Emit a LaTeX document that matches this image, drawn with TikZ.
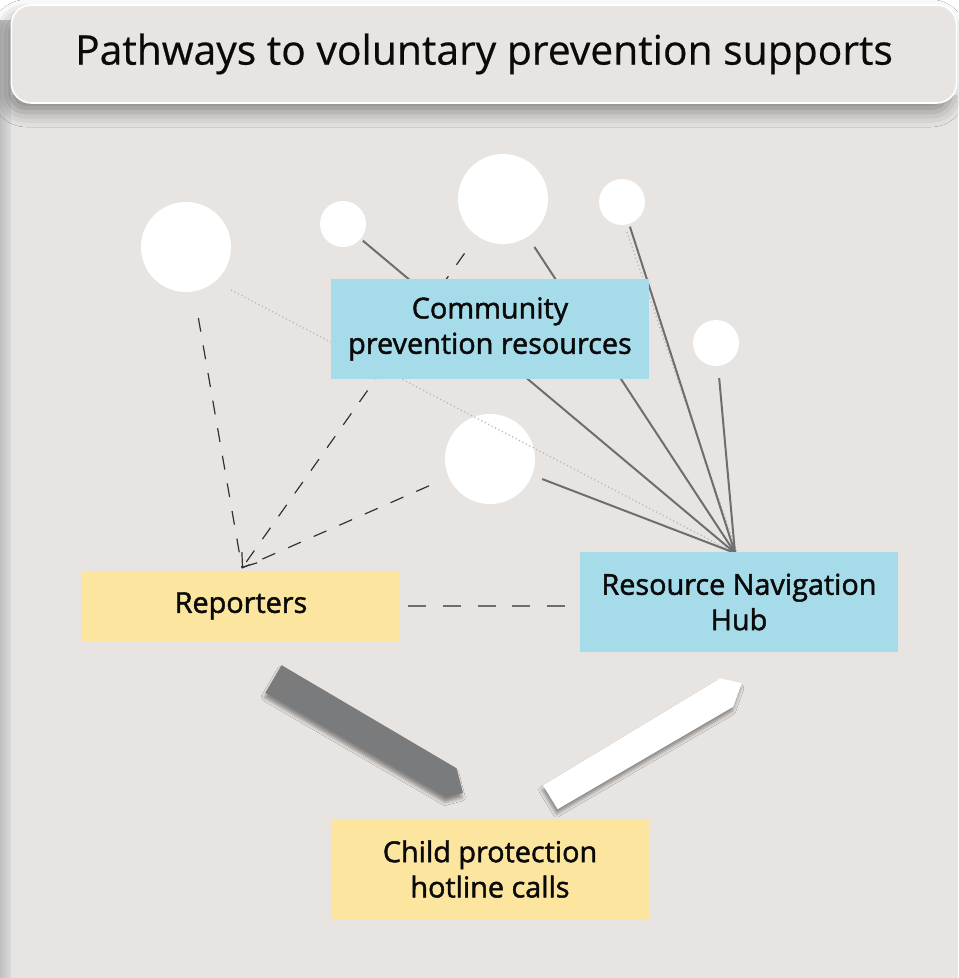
\documentclass[tikz,border=0pt]{standalone}
\usepackage{fontspec}
\setmainfont{Open Sans}
\newfontfamily\labfont{Open Sans}[FakeBold=1.6]
\newfontfamily\titfont{Open Sans}[FakeBold=0.5]
\usetikzlibrary{arrows.meta,shadows.blur,calc}
\definecolor{bg}{HTML}{E8E4E1}
\definecolor{boxblue}{HTML}{A6DCEA}
\definecolor{boxyellow}{HTML}{FCE59E}
\definecolor{linegray}{HTML}{6E6E6E}
\definecolor{arrowgray}{HTML}{7A7B7C}
\definecolor{dotgray}{HTML}{B9B5B3}
\definecolor{txt}{HTML}{0A0A0A}
\begin{document}
\begin{tikzpicture}[x=0.75pt,y=-0.75pt,
  bubble/.style={circle,fill=white,draw=none,inner sep=0pt},
  bigbubble/.style={bubble,minimum size=67.5pt},
  smallbubble/.style={bubble,minimum size=34.5pt},
  labelbox/.style={draw=none,inner sep=0pt,minimum width=238.5pt,text=txt,
    align=center,font=\labfont\fontsize{21.6pt}{26.5pt}\selectfont},
  bluebox/.style={labelbox,fill=boxblue,minimum height=75pt},
  yellowbox/.style={labelbox,fill=boxyellow,minimum height=75pt},
  hubline/.style={draw=linegray,line width=1.5pt},
  dotline/.style={draw=dotgray,line width=0.9pt,dotted},
  dashline/.style={draw=black!80,line width=0.9pt,dash pattern=on 10.5pt off 10.5pt},
  bigarrow/.style={draw=none,blur shadow={shadow xshift=-0.8pt,shadow yshift=-3.5pt,shadow blur radius=2.5pt,shadow opacity=40}},
  titlebox/.style={draw=white,line width=1.2pt,fill=bg,rounded corners=15pt,
    minimum width=709pt,minimum height=73.5pt,text=txt,
    font=\titfont\fontsize{30.6pt}{36pt}\selectfont,
    blur shadow={shadow xshift=-4pt,shadow yshift=-7pt,shadow blur radius=11pt,shadow opacity=40}}
]
\useasboundingbox (0,0) rectangle (958,978);
\fill[white] (0,0) rectangle (958,978);
% panel and left shadow strip
\fill[bg] (10,95) rectangle (958,978);
\shade[left color=black!25,right color=black!14] (0,20) rectangle (11,978);
% title
\node[titlebox] (title) at (484,54) {\raisebox{-2.5pt}{Pathways to voluntary prevention supports}};

% bubbles
\node[bigbubble] (c1) at (186,247) {};
\node[smallbubble] (c2) at (343,224) {};
\node[bigbubble] (c3) at (503,199) {};
\node[smallbubble] (c4) at (622,202) {};
\node[smallbubble] (c5) at (716,343) {};
\node[bigbubble] (c6) at (490,459) {};

\coordinate (hubpt) at (735,553);
\coordinate (reptip) at (242,568);

% faint dotted lines
\draw[dotline] (231,290) -- (hubpt);
\draw[dotline] (627,232) -- (737,552);

% solid lines to hub
\draw[hubline,shorten <=2pt] (c2) -- (hubpt);
\draw[hubline,shorten <=9pt] (c3) -- (hubpt);
\draw[hubline,shorten <=2pt] (c4) -- (hubpt);
\draw[hubline,shorten <=9pt] (c5) -- (hubpt);
\draw[hubline,shorten <=8pt] (c6) -- (hubpt);

% dashed lines to reporters
\draw[dashline,shorten <=20pt] (c1) -- (reptip);
\draw[dashline,shorten <=16pt,-{Straight Barb[length=9pt,width=14pt,line width=0.9pt]}] (c3) -- (reptip);
\draw[dashline,shorten <=16pt] (c6) -- (reptip);

% boxes
\node[bluebox] (comm) at (490,329) {Community\\prevention resources};
\node[bluebox] (hub) at (739,602) {Resource Navigation\\Hub};
\node[yellowbox,minimum height=52.5pt] (rep) at (241,606) {Reporters};
\node[yellowbox] (hot) at (490,869) {Child protection\\hotline calls};

% reporters - hub dashed
\draw[draw=linegray,line width=1.4pt,dash pattern=on 13.5pt off 12.5pt,shorten <=6pt,shorten >=9pt]
  (rep.east) -- (rep.east -| hub.west);

% big arrows
\fill[arrowgray,bigarrow] (281.6,665.2) -- (456.6,768.3) -- (463,793) -- (446,797.5) -- (265.4,692.8) -- cycle;
\fill[white,bigarrow] (543,785.2) -- (720,678.3) -- (741.7,683.3) -- (733.3,706.7) -- (557.6,809.2) -- cycle;
\end{tikzpicture}
\end{document}
